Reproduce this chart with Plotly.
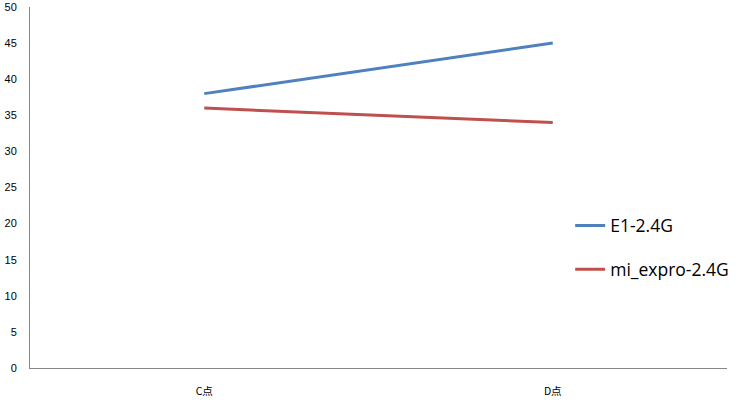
import plotly.graph_objects as go

categories = ["C点", "D点"]
series_names = ["E1-2.4G", "mi_expro-2.4G"]
e1_values = [38, 45]
mi_values = [36, 34]
y_ticks = [0, 5, 10, 15, 20, 25, 30, 35, 40, 45, 50]

colors = ["#4F81BD", "#C0504D"]

fig = go.Figure()
for name, vals, col in zip(series_names, [e1_values, mi_values], colors):
    fig.add_trace(go.Scatter(
        x=categories, y=vals, mode="lines", name=name, legendgroup=name,
        line=dict(color=col, width=3),
    ))

fig.update_layout(
    width=741, height=405,
    margin=dict(l=30, r=14, t=7, b=37, autoexpand=False),
    paper_bgcolor="white", plot_bgcolor="white",
    showlegend=True,
    legend=dict(
        x=0.775, y=0.4445, xanchor="left", yanchor="top",
        font=dict(family="'Open Sans', sans-serif", size=17.5, color="#000000"),
        bgcolor="rgba(0,0,0,0)", tracegroupgap=18,
    ),
    font=dict(family="'Liberation Sans', 'Noto Sans CJK SC', sans-serif", color="#000000"),
)
fig.update_xaxes(
    type="category", range=[-0.5, 1.5], showgrid=False, showline=True,
    linecolor="#868686", linewidth=1, ticks="", zeroline=False, automargin=False,
    tickfont=dict(size=10.5, family="'Noto Sans CJK SC', sans-serif"),
    ticklabelstandoff=13,
)
fig.update_yaxes(
    range=[0, 50], tickvals=y_ticks, showgrid=False, showline=True,
    linecolor="#868686", linewidth=1, ticks="", zeroline=False, automargin=False,
    tickfont=dict(size=11), ticklabelstandoff=10,
)

fig.write_html("out.html", config={"displayModeBar": False},
               post_script="document.body.style.margin='0';document.body.style.padding='0';")
